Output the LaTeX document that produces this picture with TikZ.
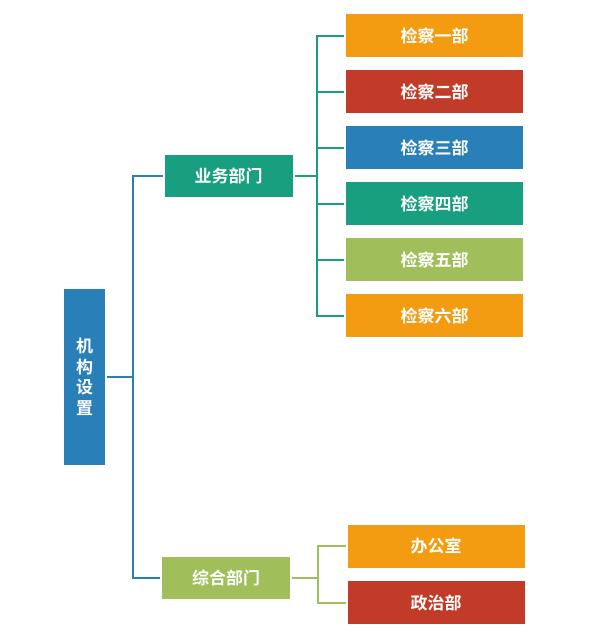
\documentclass[tikz,border=0pt]{standalone}
\usepackage{fontspec}
\newfontfamily\cjk{Noto Sans CJK SC}[BoldFont={Noto Sans CJK SC Bold}]
\usetikzlibrary{shadows}
\definecolor{orgorange}{RGB}{243,156,18}
\definecolor{orgred}{RGB}{194,59,40}
\definecolor{orgblue}{RGB}{41,127,184}
\definecolor{orgteal}{RGB}{23,159,128}
\definecolor{orggreen}{RGB}{160,191,91}
\tikzset{
  unit/.style={
    draw=white,
    line width=2pt,
    text=white,
    inner sep=0pt,
    font=\cjk\bfseries\fontsize{17}{20.5}\selectfont,
    drop shadow={opacity=0.25,fill=black!60,shadow xshift=1pt,shadow yshift=-1pt}
  },
  rootunit/.style={
    unit,
    minimum width=43pt,
    minimum height=178pt,
    align=center
  },
  midunit/.style={
    unit,
    minimum width=130pt,
    minimum height=44pt
  },
  leafunit/.style={
    unit,
    minimum width=179pt,
    minimum height=45pt
  },
  link/.style={
    line width=2pt
  }
}
\begin{document}
\begin{tikzpicture}[x=1pt,y=-1pt]
  \useasboundingbox (0,0) rectangle (598,637);
  \node[rootunit,fill=orgblue] (root) at (84.5,377) {机\\构\\设\\置};
  \node[midunit,fill=orgteal] (yw) at (228.5,176) {业务部门};
  \node[midunit,fill=orggreen] (zh) at (226,577.5) {综合部门};
  \foreach \i/\lbl/\col in {1/检察一部/orgorange,2/检察二部/orgred,3/检察三部/orgblue,
                            4/检察四部/orgteal,5/检察五部/orggreen,6/检察六部/orgorange}{
      \node[leafunit,fill=\col] (j\i) at (434.5,{35.5+56*(\i-1)}) {\lbl};
    }
  \node[leafunit,fill=orgorange] (bg) at (436,546) {办公室};
  \node[leafunit,fill=orgred] (zz) at (436,602.5) {政治部};
  % trunk
  \coordinate (jr) at (133,377);
  \draw[link,orgblue] (root.east) -- (jr);
  \draw[link,orgblue] (yw.west) -| (jr) |- (zh.west);
  % business branch
  \coordinate (jy) at (316.5,176);
  \draw[link,orgteal] (yw.east) -- (jy);
  \foreach \i in {1,...,6}{
      \draw[link,orgteal] (jy) |- (j\i.west);
    }
  % general branch
  \coordinate (jz) at (318,577.5);
  \draw[link,orggreen] (zh.east) -- (jz);
  \draw[link,orggreen] (bg.west) -| (jz) |- (zz.west);
\end{tikzpicture}
\end{document}
